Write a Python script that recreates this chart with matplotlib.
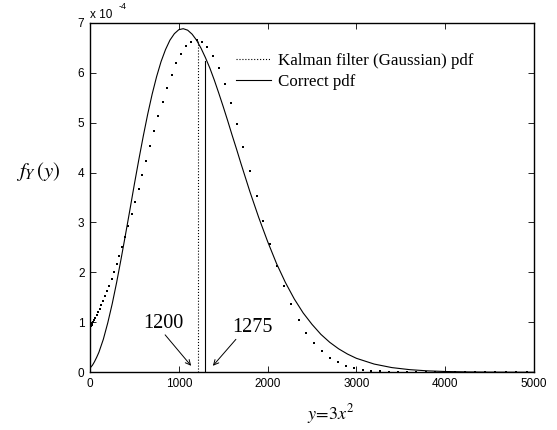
import matplotlib
matplotlib.use("Agg")
import matplotlib.pyplot as plt
from matplotlib.lines import Line2D

plt.rcParams["font.family"] = "Liberation Sans"
plt.rcParams["mathtext.fontset"] = "stix"

# y grid of the sampled points (y = 3x^2, x stepped by 0.5)
y_grid = [0, 0.75, 3, 6.75, 12, 18.75, 27, 36.75, 48, 60.75, 75, 90.75, 108,
          126.75, 147, 168.75, 192, 216.75, 243, 270.75, 300, 330.75, 363,
          396.75, 432, 468.75, 507, 546.75, 588, 630.75, 675, 720.75, 768,
          816.75, 867, 918.75, 972, 1026.75, 1083, 1140.75, 1200, 1260.75,
          1323, 1386.75, 1452, 1518.75, 1587, 1656.75, 1728, 1800.75, 1875,
          1950.75, 2028, 2106.75, 2187, 2268.75, 2352, 2436.75, 2523, 2610.75,
          2700, 2790.75, 2883, 2976.75, 3072, 3168.75, 3267, 3366.75, 3468,
          3570.75, 3675, 3780.75, 3888, 3996.75, 4107, 4218.75, 4332, 4446.75,
          4563, 4680.75, 4800, 4920.75]

# Kalman filter (Gaussian) pdf, units of 1e-4
kalman_pdf = [0.900, 0.902, 0.909, 0.920, 0.936, 0.957, 0.984, 1.015, 1.053,
              1.096, 1.146, 1.204, 1.269, 1.343, 1.426, 1.518, 1.622, 1.736,
              1.864, 2.004, 2.159, 2.328, 2.513, 2.714, 2.931, 3.164, 3.412,
              3.676, 3.952, 4.239, 4.534, 4.833, 5.131, 5.422, 5.700, 5.958,
              6.186, 6.378, 6.524, 6.617, 6.649, 6.615, 6.511, 6.335, 6.088,
              5.774, 5.400, 4.976, 4.515, 4.028, 3.531, 3.039, 2.566, 2.122,
              1.719, 1.361, 1.053, 0.795, 0.585, 0.419, 0.292, 0.198, 0.130,
              0.083, 0.051, 0.031, 0.018, 0.010, 0.005, 0.003, 0.001,
              0, 0, 0, 0, 0, 0, 0, 0, 0, 0, 0]

# correct pdf, units of 1e-4
y_true = [0, 12, 27, 50, 75, 100, 150, 200, 250, 300, 350, 400, 450, 500,
          550, 600, 650, 700, 750, 800, 850, 900, 950, 1000, 1050, 1100, 1150,
          1200, 1250, 1300, 1350, 1400, 1450, 1500, 1550, 1600, 1650, 1700,
          1800, 1900, 2000, 2100, 2200, 2300, 2400, 2500, 2600, 2700, 2800,
          2900, 3000, 3200, 3400, 3600, 3800, 4000, 4250, 4500, 5000]
true_pdf = [0.08, 0.11, 0.14, 0.21, 0.30, 0.40, 0.66, 0.99, 1.37, 1.80, 2.27,
            2.76, 3.26, 3.77, 4.26, 4.73, 5.17, 5.57, 5.92, 6.22, 6.46, 6.65,
            6.78, 6.86, 6.88, 6.85, 6.77, 6.65, 6.49, 6.30, 6.09, 5.85, 5.59,
            5.32, 5.04, 4.75, 4.47, 4.18, 3.62, 3.10, 2.62, 2.18, 1.80, 1.47,
            1.19, 0.96, 0.76, 0.60, 0.47, 0.365, 0.28, 0.165, 0.094, 0.053,
            0.029, 0.016, 0.007, 0.003, 0.0006]

# mean markers: (position, height)
kalman_mean = (1213, 6.64)
true_mean = (1295, 6.23)

fig = plt.figure(figsize=(5.57, 4.30), dpi=100)
ax = fig.add_axes([90 / 557, (430 - 372.3) / 430, 444 / 557, 349.6 / 430])

ax.plot(y_grid, kalman_pdf, ls="none", marker="s", ms=1.9, mfc="k", mec="k", mew=0)
ax.plot(y_true, true_pdf, color="k", lw=0.8)
ax.plot([kalman_mean[0]] * 2, [0, kalman_mean[1]], color="k", ls=":", lw=0.8)
ax.plot([true_mean[0]] * 2, [0, true_mean[1]], color="k", lw=0.8)

ax.set_xlim(0, 5000)
ax.set_ylim(0, 7)
ax.set_xticks(range(0, 5001, 1000))
ax.set_yticks(range(0, 8))
ax.tick_params(direction="in", top=True, right=True, length=4, width=0.6,
               labelsize=8.5, pad=4)
for s in ax.spines.values():
    s.set_linewidth(1.0)

serif = "Liberation Serif"
arrow = dict(arrowstyle="->", lw=0.7, color="k", shrinkA=0, shrinkB=0,
             mutation_scale=9)
ax.annotate("", xy=(1139, 0.13), xytext=(846, 0.75), arrowprops=arrow)
ax.annotate("", xy=(1384, 0.13), xytext=(1643, 0.66), arrowprops=arrow)
ax.text(823, 0.97, "1200", family=serif, fontsize=14.5, ha="center", va="center")
ax.text(1833, 0.89, "1275", family=serif, fontsize=14.5, ha="center", va="center")

handles = [Line2D([], [], color="k", ls=":", lw=0.8),
           Line2D([], [], color="k", lw=0.8)]
ax.legend(handles, ["Kalman filter (Gaussian) pdf", "Correct pdf"],
          loc="upper left", bbox_to_anchor=(236 / 557, 1 - 53 / 430),
          bbox_transform=fig.transFigure, frameon=False,
          prop={"family": serif, "size": 12.2}, handlelength=2.05,
          handletextpad=0.4, labelspacing=0.3, borderpad=0, borderaxespad=0)

fig.text(90 / 557, 1 - 18 / 430, "x 10", fontsize=8.5, ha="left", va="baseline")
fig.text(119 / 557, 1 - 9 / 430, "-4", fontsize=6.5, ha="left", va="baseline")

fig.text(16 / 557, 1 - 171.5 / 430, r"$f_Y\,(y)$", fontsize=15, ha="left", va="center")
fig.text(331 / 557, 1 - 414 / 430, r"$y\!=\!3x^2$", fontsize=13, ha="center", va="center")

fig.savefig("out.png", dpi=100)
